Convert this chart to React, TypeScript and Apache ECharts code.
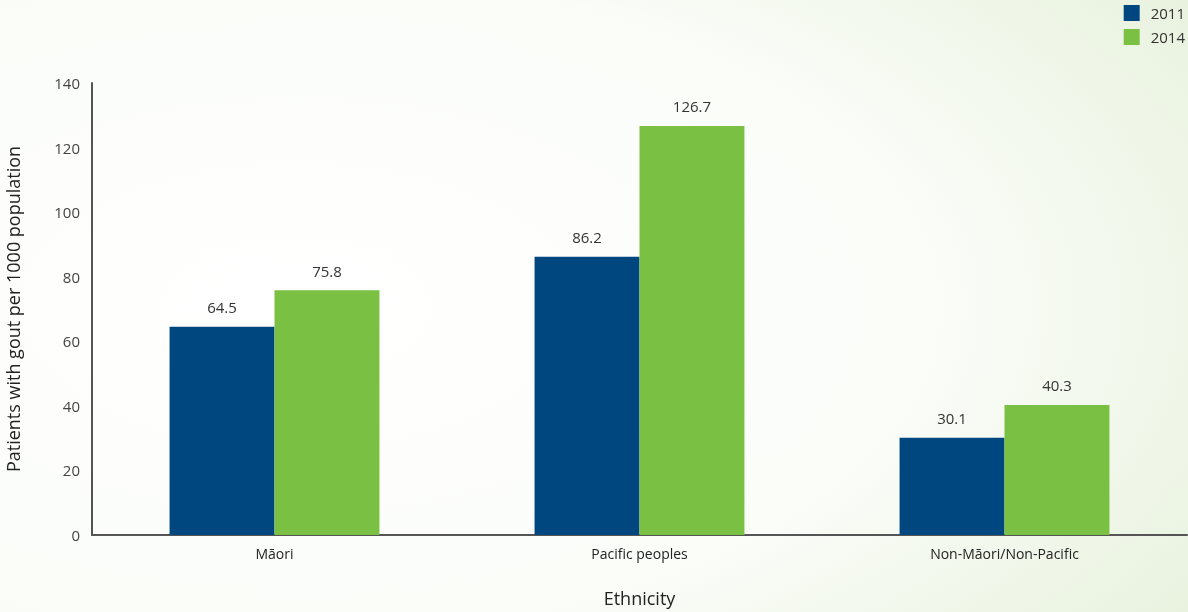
import React, { useEffect, useRef } from "react";
import * as echarts from "echarts";

const categories = ["Māori", "Pacific peoples", "Non-Māori/Non-Pacific"];
const values2011 = [64.5, 86.2, 30.1];
const values2014 = [75.8, 126.7, 40.3];
const seriesNames = ["2011", "2014"];

const FONT = "'Open Sans', Lato, sans-serif";

export default function App() {
  const ref = useRef<HTMLDivElement>(null);
  useEffect(() => {
    if (!ref.current) return;
    const chart = echarts.init(ref.current, null, { renderer: "svg" });
    const labelStyle = {
      show: true,
      position: "top",
      distance: 12,
      color: "#333",
      fontSize: 15,
      fontFamily: FONT,
    };
    chart.setOption({
      animation: false,
      backgroundColor: {
        type: "radial",
        x: 0.25,
        y: 0.5,
        r: 0.95,
        colorStops: [
          { offset: 0, color: "#ffffff" },
          { offset: 0.55, color: "#fbfdf9" },
          { offset: 1, color: "#e6f1db" },
        ],
      },
      textStyle: { fontFamily: FONT },
      legend: {
        orient: "vertical",
        right: 3,
        top: 5,
        padding: 0,
        itemWidth: 16,
        itemHeight: 16,
        itemGap: 8,
        icon: "rect",
        textStyle: { fontSize: 15, color: "#333", fontFamily: FONT, padding: [0, 0, 0, 6] },
        data: seriesNames,
      },
      grid: { left: 92, right: 1, top: 83, bottom: 77, outerBoundsMode: "none", containLabel: false },
      xAxis: {
        type: "category",
        data: categories,
        name: "Ethnicity",
        nameLocation: "middle",
        nameGap: 54,
        nameTextStyle: { fontSize: 18, color: "#222", fontFamily: FONT },
        axisLine: { lineStyle: { color: "#555", width: 2 } },
        axisTick: { show: false },
        axisLabel: { fontSize: 14, color: "#222", margin: 11, fontFamily: FONT },
      },
      yAxis: {
        type: "value",
        min: 0,
        max: 140,
        interval: 20,
        name: "Patients with gout per 1000 population",
        nameLocation: "middle",
        nameRotate: 90,
        nameGap: 70,
        nameTextStyle: { fontSize: 18, color: "#222", fontFamily: FONT },
        axisLine: { show: true, lineStyle: { color: "#555", width: 2 } },
        axisTick: { show: false },
        splitLine: { show: false },
        axisLabel: { fontSize: 15, color: "#444", margin: 12, fontFamily: FONT },
      },
      series: [
        {
          name: seriesNames[0],
          type: "bar",
          data: values2011,
          itemStyle: { color: "#00467f" },
          barGap: "0%",
          barCategoryGap: "42.5%",
          label: labelStyle,
        },
        {
          name: seriesNames[1],
          type: "bar",
          data: values2014,
          itemStyle: { color: "#7ac143" },
          barGap: "0%",
          barCategoryGap: "42.5%",
          label: labelStyle,
        },
      ],
    });
    return () => chart.dispose();
  }, []);
  return (
    <div
      ref={ref}
      style={{ position: "fixed", left: 0, top: 0, width: 1188, height: 612 }}
    />
  );
}
